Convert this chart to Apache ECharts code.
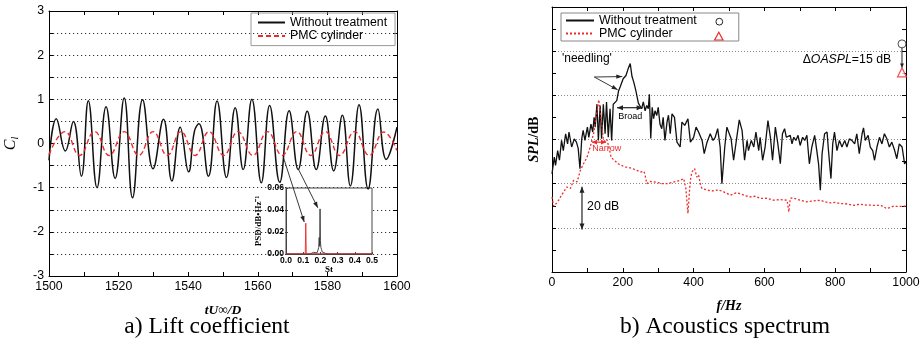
<!DOCTYPE html>
<html><head><meta charset="utf-8">
<script src="https://cdn.jsdelivr.net/npm/echarts@6/dist/echarts.min.js"></script>
<style>html,body{margin:0;padding:0;background:#fff}#c{width:924px;height:343px}</style>
</head><body><div id="c"></div>
<script>
// ---- (a) Lift coefficient time series ----
const liftTimeBlack = [1500,1502.1,1504.7,1507.0,1509.3,1511.3,1513.8,1516.4,1519.0,1521.6,1524.0,1526.9,1529.9,1532.9,1535.3,1537.7,1540.1,1541.8,1543.1,1545.8,1548.3,1551.0,1553.5,1555.8,1558.3,1561.0,1563.4,1566.3,1569.0,1571.6,1574.2,1576.8,1579.4,1581.8,1584.3,1586.6,1589.1,1591.7,1594.5,1596.9,1600];
const liftBlack = [-0.38,0.56,-0.17,0.5,-0.74,0.97,-1.0,0.83,-0.79,1.03,-1.23,0.99,-0.57,0.55,-0.85,0.37,-0.64,0.28,0.45,-0.74,0.96,-0.77,0.81,-0.59,1.0,-0.89,0.86,-0.88,0.74,-0.59,0.73,-0.59,0.62,-0.62,0.64,-0.96,0.88,-1.03,0.78,-0.36,0.37];
const liftTimeRed = [1500,1504.6,1508.8,1513.1,1517.3,1521.6,1525.8,1529.9,1534.0,1537.9,1542.0,1546.0,1550.2,1554.3,1558.6,1562.8,1567.0,1571.2,1575.2,1579.4,1583.5,1587.8,1592.0,1596.2,1600];
const liftRed = [-0.25,0.27,-0.27,0.27,-0.27,0.27,-0.27,0.27,-0.27,0.27,-0.27,0.27,-0.27,0.27,-0.27,0.27,-0.27,0.27,-0.27,0.27,-0.27,0.27,-0.27,0.26,-0.16];
// inset PSD
const psdStBlack = [0,0.14,0.15,0.16,0.17,0.18,0.185,0.19,0.193,0.196,0.198,0.2,0.203,0.207,0.21,0.22,0.23,0.25,0.3,0.5];
const psdBlack = [0,0,0.001,0.0015,0.002,0.001,0.003,0.006,0.015,0.007,0.041,0.012,0.006,0.004,0.002,0.0015,0.0005,0,0,0];
const psdStRed = [0,0.112,0.115,0.118,0.5];
const psdRed = [0,0,0.028,0,0];
// ---- (b) Acoustic spectrum ----
const freqBlack = [0,6.5,10,16,21,27,32,38.5,44,48,55.5,63,69,74,79,84,88,93,100,104,110,115,119,122,127,131,136,140,145,150,154,159,164,168.5,173,178,183,188,193,201,209,215,221,226,231,237,244,248.5,253,258,263,267.5,272,275,279,283,287,291,296,300,305,310,314,319,325,329,334,339,346,353,362,367,375,384,391,400,407,414,424,430,438,447,455,461,468,475,480,488,494,499,506,513,522,529,537,544,551,555,563,570,576,584,588,595,602,610,617,623,631,638,645,651,657,662,667,673,678,683,689,695,701,708,714,720,727,734,742,748,753,758,763,770,777,781,788,793,798,805,812,819,827,833,840,847,855,861,868,876,880,885,893,899,906,911,918,925,932,939,946,953,960,968,974,981,985,989,996,1000];
const splBlack = [44.5,52,48.3,55,50.6,59.6,55,62.6,58,63.4,56.6,60.3,58.8,56,46.8,60.3,64.1,59.6,65.6,61,67,63.4,70,65.6,76,59.6,75.4,60.3,76,62.6,77,61,73.9,59.6,76,75.4,77.6,82,84,87.5,89,92,94.4,88.5,86,82,76.5,76,73.9,77,73,75.4,74,80.5,60.5,74.6,69.4,73,70.9,74.6,67,64.9,70,59.6,68,71,62.6,71.6,70,58.8,56.6,67.9,66.4,69.4,58.8,61,65.6,63.4,59.6,53.6,58.8,62.6,59.6,61,64.9,56.6,40,56.6,65.6,66.4,60.3,50.6,61,68.9,64,50.6,59.6,55,59.6,56.6,63.4,55,61,50.6,56.6,68.6,61,50.6,65.6,58,49,62.6,64.9,61,60.3,61.9,58,61,59.6,61.9,57.3,61,59.6,61.9,49,56.6,61.9,55,49,37,53.6,62.6,63.4,55,42.3,58,63.4,55,59.6,56.6,59.6,56.6,60.3,59.6,58,62.6,53.6,62.6,65.3,59.6,61.9,56.6,55,50.6,56.6,61,58,62.6,60.3,56.6,58.8,55,51.3,58,58.5,56.6,49,50];
const freqRed = [0,5,12,19,26,33,42,52,61,71,80,89,99,108,113,118,124,128,132,136,140,145,150,155,160,167,173,180,187,200,210,225,240,250,260,263,268,275,287,300,310,325,344,362,372,378,384,389,391,395,403,409,414,420,424,440,457,470,485,504,520,532,545,560,575,588,605,626,645,664,669,673,680,701,720,740,758,770,786,800,815,830,852,871,890,909,930,946,965,980,1000];
const splRed = [34,29.8,31,32.5,34.5,36.3,38.5,37.8,41.5,40.8,46,49,52,56.6,60,63,70,73,78,78,68,60,59,60,57,52,51,50,49,48,47.5,47,46,45.3,45.5,43.8,40,41,40.8,40.5,40,40,40.8,41.5,42.3,38,26.5,38,41.5,45.3,46.8,43,44,39,37.8,37,36.7,37.2,36.3,34.8,35.8,35.5,34.6,34,34.3,33.3,33.4,32.5,32.8,32.5,27.2,33.3,33.6,32.5,31.8,32.2,32.5,31.8,31.3,31.5,31,30.9,30.2,30.7,30.3,30.2,30.1,28.7,29.8,29.7,29.8];
// overall SPL markers (OASPL)
const oasplFreq = 988.7;
const oasplBlack = 103.3;
const oasplRed = 90.4;

const pair = (xs, ys) => xs.map((x, i) => [x, ys[i]]);
const SANS = 'Liberation Sans', SERIF = 'Liberation Serif';
const BLACK = '#111', RED = '#ee2a2a';
const axLine = {onZero:false, lineStyle:{color:'#000', width:1}};
const noLabel = {show:false};
const tick = {inside:true, length:4, lineStyle:{color:'#000'}};
const minor = {show:true, splitNumber:2, length:4, lineStyle:{color:'#000'}};
const lbl = {fontFamily:SANS, fontSize:12.3, color:'#000', margin:5, formatter: v => String(v)};
const darkDot = {show:true, lineStyle:{color:'#333', type:[1.2,2.8], width:1}};
const grayDot = {show:true, lineStyle:{color:'#8a8a8a', type:[1,2], width:1}};
const insetLbl = {fontFamily:SANS, fontSize:8.6, fontWeight:'bold', color:'#000', margin:2};

const option = {
  animation:false,
  backgroundColor:'#fff',
  grid:[
    {left:49, right:527, top:11, bottom:67, outerBoundsMode:'none'},
    {left:286, top:188, width:86, height:66, show:true, backgroundColor:'#fff', borderColor:'#444', borderWidth:1, z:2, outerBoundsMode:'none'},
    {left:552, right:18, top:7, bottom:71, outerBoundsMode:'none'}
  ],
  xAxis:[
    {type:'value', gridIndex:0, min:1500, max:1600, interval:20, axisLine:axLine, axisTick:tick, minorTick:minor, axisLabel:lbl, splitLine:{show:false},
     name:'tU∞/D', nameLocation:'middle', nameGap:28, nameMoveOverlap:false,
     nameTextStyle:{fontFamily:SERIF, fontStyle:'italic', fontWeight:'bold', fontSize:13.5, color:'#000'}},
    {type:'value', gridIndex:0, position:'top', min:1500, max:1600, interval:20, axisLine:axLine, axisTick:tick, minorTick:minor, axisLabel:noLabel, splitLine:{show:false}},
    {type:'value', gridIndex:1, min:0, max:0.5, interval:0.1, z:3, axisLine:{onZero:false, lineStyle:{color:'#444'}}, axisTick:{inside:true, length:2, lineStyle:{color:'#444'}},
     axisLabel:Object.assign({formatter:v => v.toFixed(1)}, insetLbl), splitLine:{show:false},
     name:'St', nameLocation:'middle', nameGap:11, nameMoveOverlap:false,
     nameTextStyle:{fontFamily:SERIF, fontWeight:'bold', fontSize:9, color:'#000'}},
    {type:'value', gridIndex:2, min:0, max:1000, interval:200, axisLine:axLine, axisTick:tick, minorTick:minor, axisLabel:lbl, splitLine:{show:false},
     name:'f/Hz', nameLocation:'middle', nameGap:27, nameMoveOverlap:false,
     nameTextStyle:{fontFamily:SERIF, fontStyle:'italic', fontWeight:'bold', fontSize:14, color:'#000'}},
    {type:'value', gridIndex:2, position:'top', min:0, max:1000, interval:200, axisLine:axLine, axisTick:tick, minorTick:minor, axisLabel:noLabel, splitLine:{show:false}}
  ],
  yAxis:[
    {type:'value', gridIndex:0, min:-3, max:3, interval:1, axisLine:axLine, axisTick:tick, minorTick:minor, axisLabel:lbl,
     splitLine:darkDot, minorSplitLine:darkDot,
     name:'{c|C}{s|l}', nameLocation:'middle', nameGap:29, nameMoveOverlap:false,
     nameTextStyle:{rich:{c:{fontFamily:SERIF, fontStyle:'italic', fontSize:16, color:'#000'}, s:{fontFamily:SERIF, fontStyle:'italic', fontSize:10, color:'#000', padding:[8,0,0,0]}}}},
    {type:'value', gridIndex:0, position:'right', min:-3, max:3, interval:1, axisLine:axLine, axisTick:tick, minorTick:minor, axisLabel:noLabel, splitLine:{show:false}},
    {type:'value', gridIndex:1, min:0, max:0.06, interval:0.02, z:3, axisLine:{onZero:false, lineStyle:{color:'#444'}}, axisTick:{inside:true, length:2, lineStyle:{color:'#444'}},
     axisLabel:Object.assign({formatter:v => v.toFixed(2)}, insetLbl), splitLine:{show:false},
     name:'PSD/dB•Hz⁻¹', nameLocation:'middle', nameGap:23, nameMoveOverlap:false,
     nameTextStyle:{fontFamily:SERIF, fontWeight:'bold', fontSize:9, color:'#000'}},
    {type:'value', gridIndex:2, min:0, max:120, interval:20, axisLine:axLine, axisTick:tick, minorTick:minor, axisLabel:noLabel,
     splitLine:grayDot,
     name:'{a|SPL}{b|/dB}', nameLocation:'middle', nameGap:11, nameMoveOverlap:false,
     nameTextStyle:{rich:{a:{fontFamily:SERIF, fontStyle:'italic', fontWeight:'bold', fontSize:14, color:'#000'}, b:{fontFamily:SERIF, fontWeight:'bold', fontSize:14, color:'#000'}}}},
    {type:'value', gridIndex:2, position:'right', min:0, max:120, interval:20, axisLine:axLine, axisTick:tick, minorTick:minor, axisLabel:noLabel, splitLine:{show:false}}
  ],
  legend:[
    {data:['Without treatment','PMC cylinder'], orient:'vertical', left:251, top:13, itemWidth:27, itemHeight:14, itemGap:1.6,
     padding:[3.5,8,3.5,6], borderColor:'#999', borderWidth:1, selectedMode:false, itemStyle:{opacity:0},
     textStyle:{fontFamily:SANS, fontSize:12.3, color:'#000'}},
    {data:['Without treatment (b)','PMC cylinder (b)'], orient:'vertical', left:561, top:13, itemWidth:28, itemHeight:14, itemGap:1,
     padding:[1.5,42,1.5,4], borderColor:'#888', borderWidth:1, selectedMode:false, itemStyle:{opacity:0},
     formatter: n => n.replace(' (b)',''),
     textStyle:{fontFamily:SANS, fontSize:12.4, color:'#000'}}
  ],
  series:[
    {name:'Without treatment', type:'line', xAxisIndex:0, yAxisIndex:0, data:pair(liftTimeBlack, liftBlack), smooth:0.45, symbol:'none',
     lineStyle:{color:BLACK, width:1.5}, itemStyle:{color:BLACK}},
    {name:'PMC cylinder', type:'line', xAxisIndex:0, yAxisIndex:0, data:pair(liftTimeRed, liftRed), smooth:0.45, symbol:'none',
     lineStyle:{color:RED, width:1.4, type:[5,3]}, itemStyle:{color:RED}},
    {name:'PSD without treatment', type:'line', xAxisIndex:2, yAxisIndex:2, data:pair(psdStBlack, psdBlack), symbol:'none', z:4,
     lineStyle:{color:'#333', width:0.9}},
    {name:'PSD PMC', type:'line', xAxisIndex:2, yAxisIndex:2, data:pair(psdStRed, psdRed), symbol:'none', z:4,
     lineStyle:{color:RED, width:0.9}},
    {name:'Without treatment (b)', type:'line', xAxisIndex:3, yAxisIndex:3, data:pair(freqBlack, splBlack), symbol:'none',
     lineStyle:{color:BLACK, width:1.3}, itemStyle:{color:BLACK}},
    {name:'PMC cylinder (b)', type:'line', xAxisIndex:3, yAxisIndex:3, data:pair(freqRed, splRed), symbol:'none',
     lineStyle:{color:RED, width:1.3, type:[2,2]}, itemStyle:{color:RED}},
    {name:'OASPL without', type:'scatter', xAxisIndex:3, yAxisIndex:3, data:[[oasplFreq, oasplBlack]], symbol:'circle', symbolSize:8,
     itemStyle:{color:'#fff', borderColor:'#222', borderWidth:1}},
    {name:'OASPL PMC', type:'scatter', xAxisIndex:3, yAxisIndex:3, data:[[oasplFreq, oasplRed]], symbol:'triangle', symbolSize:9,
     itemStyle:{color:'#fff', borderColor:RED, borderWidth:1.2}}
  ]
};

const chart = echarts.init(document.getElementById('c'));
chart.setOption(option);

const G0 = {xAxisIndex:0, yAxisIndex:0}, GI = {xAxisIndex:2, yAxisIndex:2}, GR = {xAxisIndex:3, yAxisIndex:3};
const px = (g, v) => chart.convertToPixel(g, v);
function arrowEls(a, b, color, both, head, hw, lw) {
  head = head || 6; hw = hw || 2.5; lw = lw || 1;
  const els = [{type:'line', z:50, shape:{x1:a[0], y1:a[1], x2:b[0], y2:b[1]}, style:{stroke:color, lineWidth:lw}}];
  const addHead = (tip, from) => {
    const dx = tip[0]-from[0], dy = tip[1]-from[1], len = Math.hypot(dx, dy), ux = dx/len, uy = dy/len;
    const bx = tip[0]-ux*head, by = tip[1]-uy*head;
    els.push({type:'polygon', z:51, shape:{points:[[tip[0], tip[1]], [bx-uy*hw, by+ux*hw], [bx+uy*hw, by-ux*hw]]}, style:{fill:color}});
  };
  addHead(b, a); if (both) addHead(a, b);
  return els;
}
function txt(p, text, style) {
  return {type:'text', z:52, x:p[0], y:p[1], style:Object.assign({text:text, fill:'#000', fontFamily:SANS, fontSize:12, align:'left', verticalAlign:'middle'}, style || {})};
}
const g = [];
// inset pointers (a)
g.push(...arrowEls(px(G0, [1567.3, -0.30]), px(GI, [0.106, 0.029]), '#222', false, 6, 2.2, 0.9));
g.push(...arrowEls(px(G0, [1571.6, -0.57]), px(GI, [0.185, 0.042]), '#222', false, 6, 2.2, 0.9));
// annotations (b)
g.push(txt(px(GR, [28, 96.5]), "'needling'", {fontSize:12}));
const nd = px(GR, [119.5, 88.3]);
g.push(...arrowEls(nd, px(GR, [198.6, 88.5]), '#222', false, 6, 2.2, 0.9));
g.push(...arrowEls(nd, px(GR, [185.4, 82.5]), '#222', false, 6, 2.2, 0.9));
g.push(...arrowEls(px(GR, [183.6, 74.4]), px(GR, [256, 74.4]), '#222', true, 6, 2.5, 1.2));
g.push(txt(px(GR, [221, 70.2]), 'Broad', {fontSize:9, align:'center'}));
g.push(...arrowEls(px(GR, [113, 58.8]), px(GR, [152.5, 58.8]), RED, true, 5, 2.3, 1.2));
g.push(txt(px(GR, [155, 55.8]), 'Narrow', {fontSize:9, align:'center', fill:RED}));
g.push(...arrowEls(px(GR, [84.7, 38.6]), px(GR, [84.7, 19.3]), '#222', true, 6, 2.5, 1.2));
g.push(txt(px(GR, [99, 29.5]), '20 dB', {fontSize:12.3}));
g.push(txt(px(GR, [708, 96]), '{d|Δ}{o|OASPL}{n|=15 dB}', {rich:{d:{fontFamily:SANS, fontSize:12.3, fill:'#000'}, o:{fontFamily:SANS, fontStyle:'italic', fontSize:12.3, fill:'#000'}, n:{fontFamily:SANS, fontSize:12.3, fill:'#000'}}}));
g.push(...arrowEls(px(GR, [oasplFreq, oasplBlack-1.8]), px(GR, [oasplFreq, oasplRed+2.2]), '#222', false, 4, 2, 1));
// legend marker symbols for OASPL (b)
g.push({type:'circle', z:52, shape:{cx:719.3, cy:21.7, r:3.4}, style:{fill:'#fff', stroke:'#222', lineWidth:1}});
g.push({type:'polygon', z:52, shape:{points:[[718.8,32.3],[714.6,40],[723,40]]}, style:{fill:'#fff', stroke:RED, lineWidth:1.2}});
// captions
g.push({type:'text', z:52, x:207, y:327, style:{text:'a) Lift coefficient', fill:'#000', fontFamily:SERIF, fontSize:23.5, align:'center', verticalAlign:'middle'}});
g.push({type:'text', z:52, x:725, y:327, style:{text:'b) Acoustics spectrum', fill:'#000', fontFamily:SERIF, fontSize:23.5, align:'center', verticalAlign:'middle'}});
chart.setOption({graphic:g});
</script>
</body></html>
